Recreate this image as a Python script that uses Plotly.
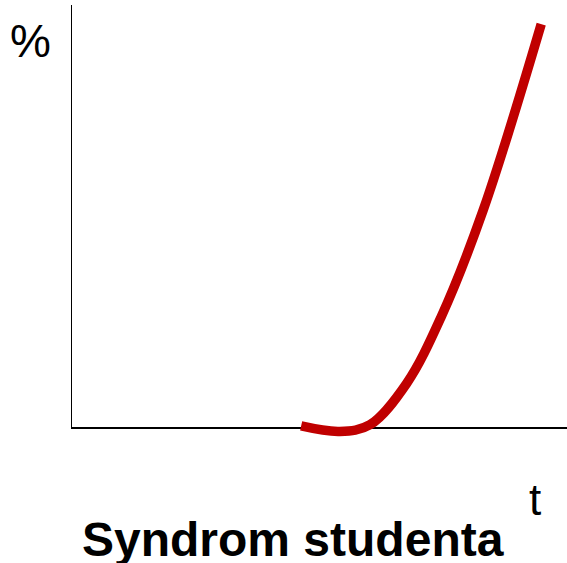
import plotly.graph_objects as go

# Estimated curve values (arbitrary units: time vs percent)
t_values = [46.4, 54.2, 60.3, 67.7, 74.6, 83.1, 94.8]
pct_values = [0.5, -0.8, 0.8, 10.6, 26.2, 51.5, 95.5]

title_text = "Syndrom studenta"
x_label = "t"
y_label = "%"

W, H = 567, 563
Y0_PX = 428          # pixel row of the x axis (value 0)
Y_MIN = -4           # data range extends slightly below the axis so the dip is visible
L, R, T = 71, 0, 5
B = H - Y0_PX - int(round(-Y_MIN * (Y0_PX - T) / 100))
pw, ph = W - L - R, H - T - B


def px(x):
    return (x - L) / pw


def py(y):
    return (H - B - y) / ph


fig = go.Figure()
fig.add_trace(go.Scatter(
    x=t_values, y=pct_values, mode="lines",
    line=dict(color="#C00000", width=9.5, shape="spline", smoothing=1.0),
    hoverinfo="skip", showlegend=False,
))

# vertical axis line from 0 to top
fig.add_shape(type="line", xref="x", yref="y", x0=0, x1=0, y0=0, y1=100,
              line=dict(color="black", width=2), layer="above")

font = "Liberation Sans, Arial, sans-serif"
fig.add_annotation(text=y_label, x=px(30), y=py(41), xref="paper", yref="paper",
                   showarrow=False, xanchor="center", yanchor="middle",
                   font=dict(family=font, size=46, color="black"))
fig.add_annotation(text=x_label, x=px(535), y=py(499), xref="paper", yref="paper",
                   showarrow=False, xanchor="center", yanchor="middle",
                   font=dict(family=font, size=44, color="black"))
fig.add_annotation(text="<b>" + title_text + "</b>", x=px(293), y=py(539), xref="paper", yref="paper",
                   showarrow=False, xanchor="center", yanchor="middle",
                   font=dict(family=font, size=48, color="black"))

fig.update_layout(
    width=W, height=H,
    margin=dict(l=L, r=R, t=T, b=B, pad=0),
    paper_bgcolor="white", plot_bgcolor="white",
    xaxis=dict(range=[0, 100], showline=False,
               showgrid=False, zeroline=False, showticklabels=False, ticks="",
               fixedrange=True),
    yaxis=dict(range=[Y_MIN, 100], showline=False,
               showgrid=False, zeroline=True, zerolinecolor="black", zerolinewidth=2,
               showticklabels=False, ticks="", fixedrange=True),
)

fig.write_html("out.html", config={"displayModeBar": False},
               post_script="document.body.style.margin='0';document.body.style.overflow='hidden';")
